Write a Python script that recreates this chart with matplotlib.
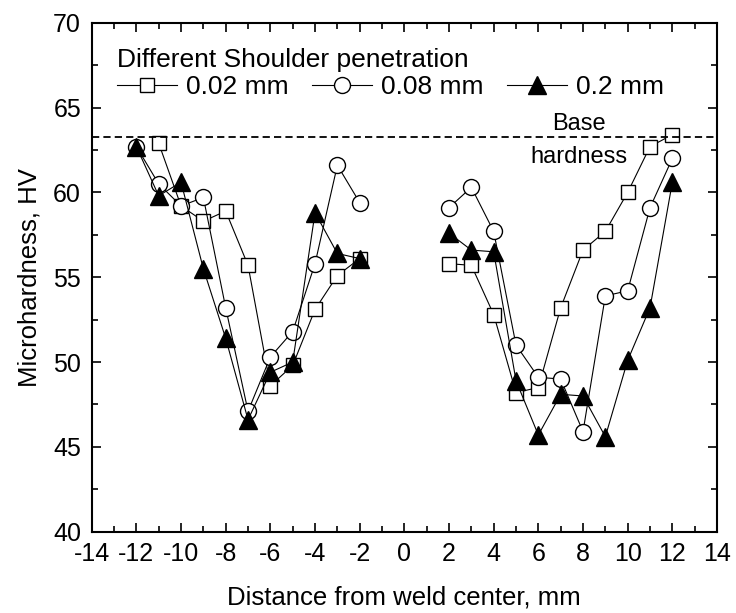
import matplotlib
matplotlib.use("Agg")
import matplotlib.pyplot as plt
from matplotlib.ticker import MultipleLocator

plt.rcParams['font.family'] = ['Liberation Sans', 'DejaVu Sans']
plt.rcParams['axes.unicode_minus'] = False

# Microhardness profiles across the weld for three shoulder penetrations
x_left = [-12, -11, -10, -9, -8, -7, -6, -5, -4, -3, -2]
x_right = [2, 3, 4, 5, 6, 7, 8, 9, 10, 11, 12]

sq_x_left = [-11, -10, -9, -8, -7, -6, -5, -4, -3, -2]
hv_002_left = [62.9, 59.2, 58.3, 58.9, 55.7, 48.6, 49.8, 53.1, 55.1, 56.1]
hv_002_right = [55.8, 55.7, 52.8, 48.2, 48.5, 53.2, 56.6, 57.7, 60.0, 62.7, 63.4]

hv_008_left = [62.7, 60.5, 59.2, 59.7, 53.2, 47.1, 50.3, 51.8, 55.8, 61.6, 59.4]
hv_008_right = [59.1, 60.3, 57.7, 51.0, 49.1, 49.0, 45.9, 53.9, 54.2, 59.1, 62.0]

hv_02_left = [62.7, 59.8, 60.6, 55.5, 51.4, 46.6, 49.4, 50.0, 58.8, 56.4, 56.1]
hv_02_right = [57.6, 56.6, 56.5, 48.9, 45.7, 48.1, 48.0, 45.6, 50.1, 53.2, 60.6]

base_hardness = 63.25
labels = ['0.02 mm', '0.08 mm', '0.2 mm']

fig = plt.figure(figsize=(7.36, 6.13), dpi=100)
ax = fig.add_axes([0.1246, 0.1326, 0.8496, 0.8303])

style = dict(color='black', lw=0.8)

l1, = ax.plot(sq_x_left, hv_002_left, marker='s', mfc='white', mec='black',
              ms=10, label=labels[0], **style)
ax.plot(x_right, hv_002_right, marker='s', mfc='white', mec='black', ms=10, **style)

l2, = ax.plot(x_left, hv_008_left, marker='o', mfc='white', mec='black',
              ms=11.5, label=labels[1], **style)
ax.plot(x_right, hv_008_right, marker='o', mfc='white', mec='black', ms=11.5, **style)

l3, = ax.plot(x_left, hv_02_left, marker='^', mfc='black', mec='black',
              ms=12.5, label=labels[2], **style)
ax.plot(x_right, hv_02_right, marker='^', mfc='black', mec='black', ms=12.5, **style)

ax.axhline(base_hardness, color='black', lw=1.3, ls=(0, (4, 2.3)))
ax.text(7.82, 63.65, 'Base', ha='center', va='baseline', fontsize=17)
ax.text(7.82, 61.75, 'hardness', ha='center', va='baseline', fontsize=17)

ax.set_xlim(-14, 14)
ax.set_ylim(40, 70)
ax.xaxis.set_major_locator(MultipleLocator(2))
ax.xaxis.set_minor_locator(MultipleLocator(1))
ax.yaxis.set_major_locator(MultipleLocator(5))
ax.yaxis.set_minor_locator(MultipleLocator(2.5))
ax.tick_params(which='both', direction='in', top=True, right=True, width=1.2)
ax.tick_params(which='major', length=6.5, labelsize=18)
ax.tick_params(which='minor', length=4)
ax.tick_params(axis='x', pad=7.2)
ax.tick_params(axis='y', pad=7.7)
for s in ax.spines.values():
    s.set_linewidth(1.5)

ax.set_xlabel('Distance from weld center, mm', fontsize=18.5, labelpad=14.5)
ax.set_ylabel('Microhardness, HV', fontsize=18.5, labelpad=8.3)

leg = ax.legend(handles=[l1, l2, l3], ncol=3, frameon=False, fontsize=19,
                title='Different Shoulder penetration', title_fontsize=19,
                loc='upper left', bbox_to_anchor=(0.0, 1.0),
                handlelength=2.27, handletextpad=0.34, columnspacing=0.9,
                borderaxespad=0.5, borderpad=0.45, labelspacing=0.12)
leg._legend_box.align = 'left'

fig.savefig('out.png', dpi=100)
